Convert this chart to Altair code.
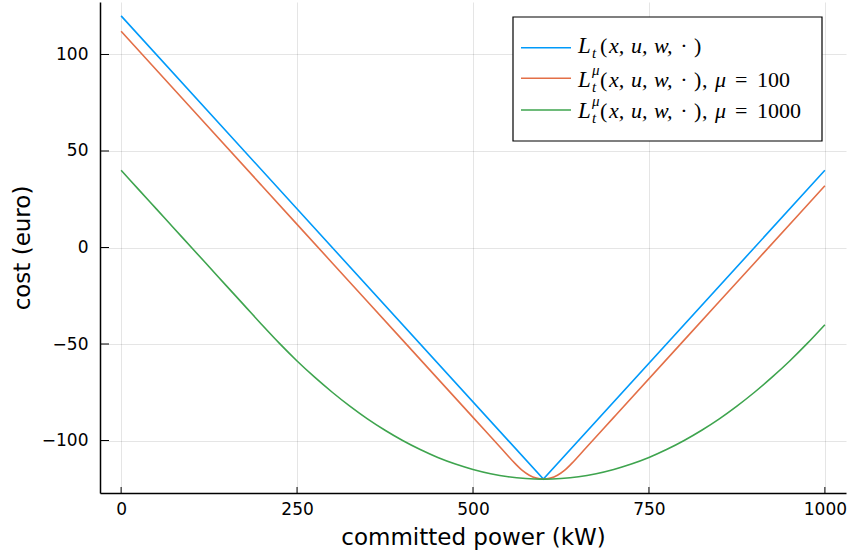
import altair as alt
import pandas as pd

# Stage cost L_t and its Moreau-type smoothings L_t^mu, sampled over committed power
x_exact = [0, 600, 1000]
cost_exact = [120, -120, 40]

x_mu100 = [0, 100, 200, 300, 400, 500, 540, 560, 570, 580, 590, 600,
           610, 620, 630, 640, 660, 700, 800, 900, 1000]
cost_mu100 = [112, 72, 32, -8, -48, -88, -104, -112, -115.5, -118, -119.5, -120,
              -119.5, -118, -115.5, -112, -104, -88, -48, -8, 32]

x_mu1000 = [0, 25, 50, 75, 100, 125, 150, 175, 200, 225, 250, 275, 300, 325, 350,
            375, 400, 425, 450, 475, 500, 525, 550, 575, 600, 625, 650, 675, 700,
            725, 750, 775, 800, 825, 850, 875, 900, 925, 950, 975, 1000]
cost_mu1000 = [40, 30, 20, 10, 0, -10, -20, -30, -40, -49.7, -58.8, -67.2, -75,
               -82.2, -88.8, -94.7, -100, -104.7, -108.8, -112.2, -115, -117.2,
               -118.8, -119.7, -120, -119.7, -118.8, -117.2, -115, -112.2, -108.8,
               -104.7, -100, -94.7, -88.8, -82.2, -75, -67.2, -58.8, -49.7, -40]

x_ticks = [0, 250, 500, 750, 1000]
y_ticks = [-100, -50, 0, 50, 100]

colors = ["#009AFA", "#E36F47", "#3EA44E"]
mu_labels = ["", "100", "1000"]

W, H = 746, 491
FONT = "DejaVu Sans"
MATH = "Liberation Serif"

xscale = alt.Scale(domain=[-30, 1030], nice=False, zero=False)
yscale = alt.Scale(domain=[-127.2, 127.2], nice=False, zero=False)

xaxis = alt.Axis(values=x_ticks, title="committed power (kW)", tickSize=0,
                 labelPadding=8, titlePadding=9, domainColor="black", domainWidth=1.5,
                 gridColor="black", gridOpacity=0.1, gridWidth=1, format="d")
yaxis = alt.Axis(values=y_ticks, title="cost (euro)", tickSize=0,
                 labelPadding=12, titlePadding=7, domainColor="black", domainWidth=1.5,
                 gridColor="black", gridOpacity=0.1, gridWidth=1, format="d")


def curve(xs, ys, color, interp):
    df = pd.DataFrame({"power": xs, "cost": ys})
    return alt.Chart(df).mark_line(color=color, strokeWidth=1.6, interpolate=interp,
                                   clip=True).encode(
        x=alt.X("power:Q", scale=xscale, axis=xaxis),
        y=alt.Y("cost:Q", scale=yscale, axis=yaxis),
    )


# inward tick marks, as drawn by the plotting backend
xt = alt.Chart(pd.DataFrame({"v": x_ticks})).mark_rule(color="black", strokeWidth=1).encode(
    x=alt.X("v:Q", scale=xscale, axis=xaxis), y=alt.value(H), y2=alt.value(H - 6))
yt = alt.Chart(pd.DataFrame({"v": y_ticks})).mark_rule(color="black", strokeWidth=1).encode(
    y=alt.Y("v:Q", scale=yscale, axis=yaxis), x=alt.value(0), x2=alt.value(9))

one = pd.DataFrame({"k": [0]})


def txt(s, x, y, size=22, style="italic", align="left"):
    return alt.Chart(one).mark_text(text=s, font=MATH, fontSize=size, fontStyle=style,
                                    align=align, baseline="alphabetic", color="black").encode(
        x=alt.value(x), y=alt.value(y))


legend = [alt.Chart(one).mark_rect(fill="white", stroke="black", strokeWidth=1.2).encode(
    x=alt.value(413), x2=alt.value(722), y=alt.value(15), y2=alt.value(139))]

line_y = [45.7, 76.3, 108.0]
base_y = [51.3, 84.7, 116.3]
for i in range(3):
    ly, by = line_y[i], base_y[i]
    legend.append(alt.Chart(one).mark_rule(color=colors[i], strokeWidth=1.6).encode(
        x=alt.value(421), x2=alt.value(471), y=alt.value(ly)))
    legend += [
        txt("L", 478, by, size=23),
        txt("t", 492, by + 5, size=15),
        txt("(", 500, by, style="normal"),
        txt("x,", 509, by),
        txt("u,", 531, by),
        txt("w,", 554, by),
        txt("·", 584, by, style="normal", align="center"),
        txt(")", 594, by, style="normal"),
    ]
    if mu_labels[i]:
        legend += [
            txt("μ", 492, by - 12, size=15),
            txt(",", 602, by, style="normal"),
            txt("μ", 615, by),
            txt("=", 635, by, style="normal"),
            txt(mu_labels[i], 657, by, style="normal"),
        ]

chart = alt.layer(
    curve(x_exact, cost_exact, colors[0], "linear"),
    curve(x_mu100, cost_mu100, colors[1], "monotone"),
    curve(x_mu1000, cost_mu1000, colors[2], "monotone"),
    xt, yt, *legend,
).properties(
    width=W, height=H,
    autosize=alt.AutoSizeParams(type="none"),
    padding={"left": 100, "top": 2, "right": 2, "bottom": 62},
).configure_view(stroke=None).configure_axis(
    labelFont=FONT, labelFontSize=17, labelColor="black",
    titleFont=FONT, titleFontSize=23, titleFontWeight="normal", titleColor="black",
)

chart.save("out.html", embed_options={"renderer": "svg", "actions": False})
